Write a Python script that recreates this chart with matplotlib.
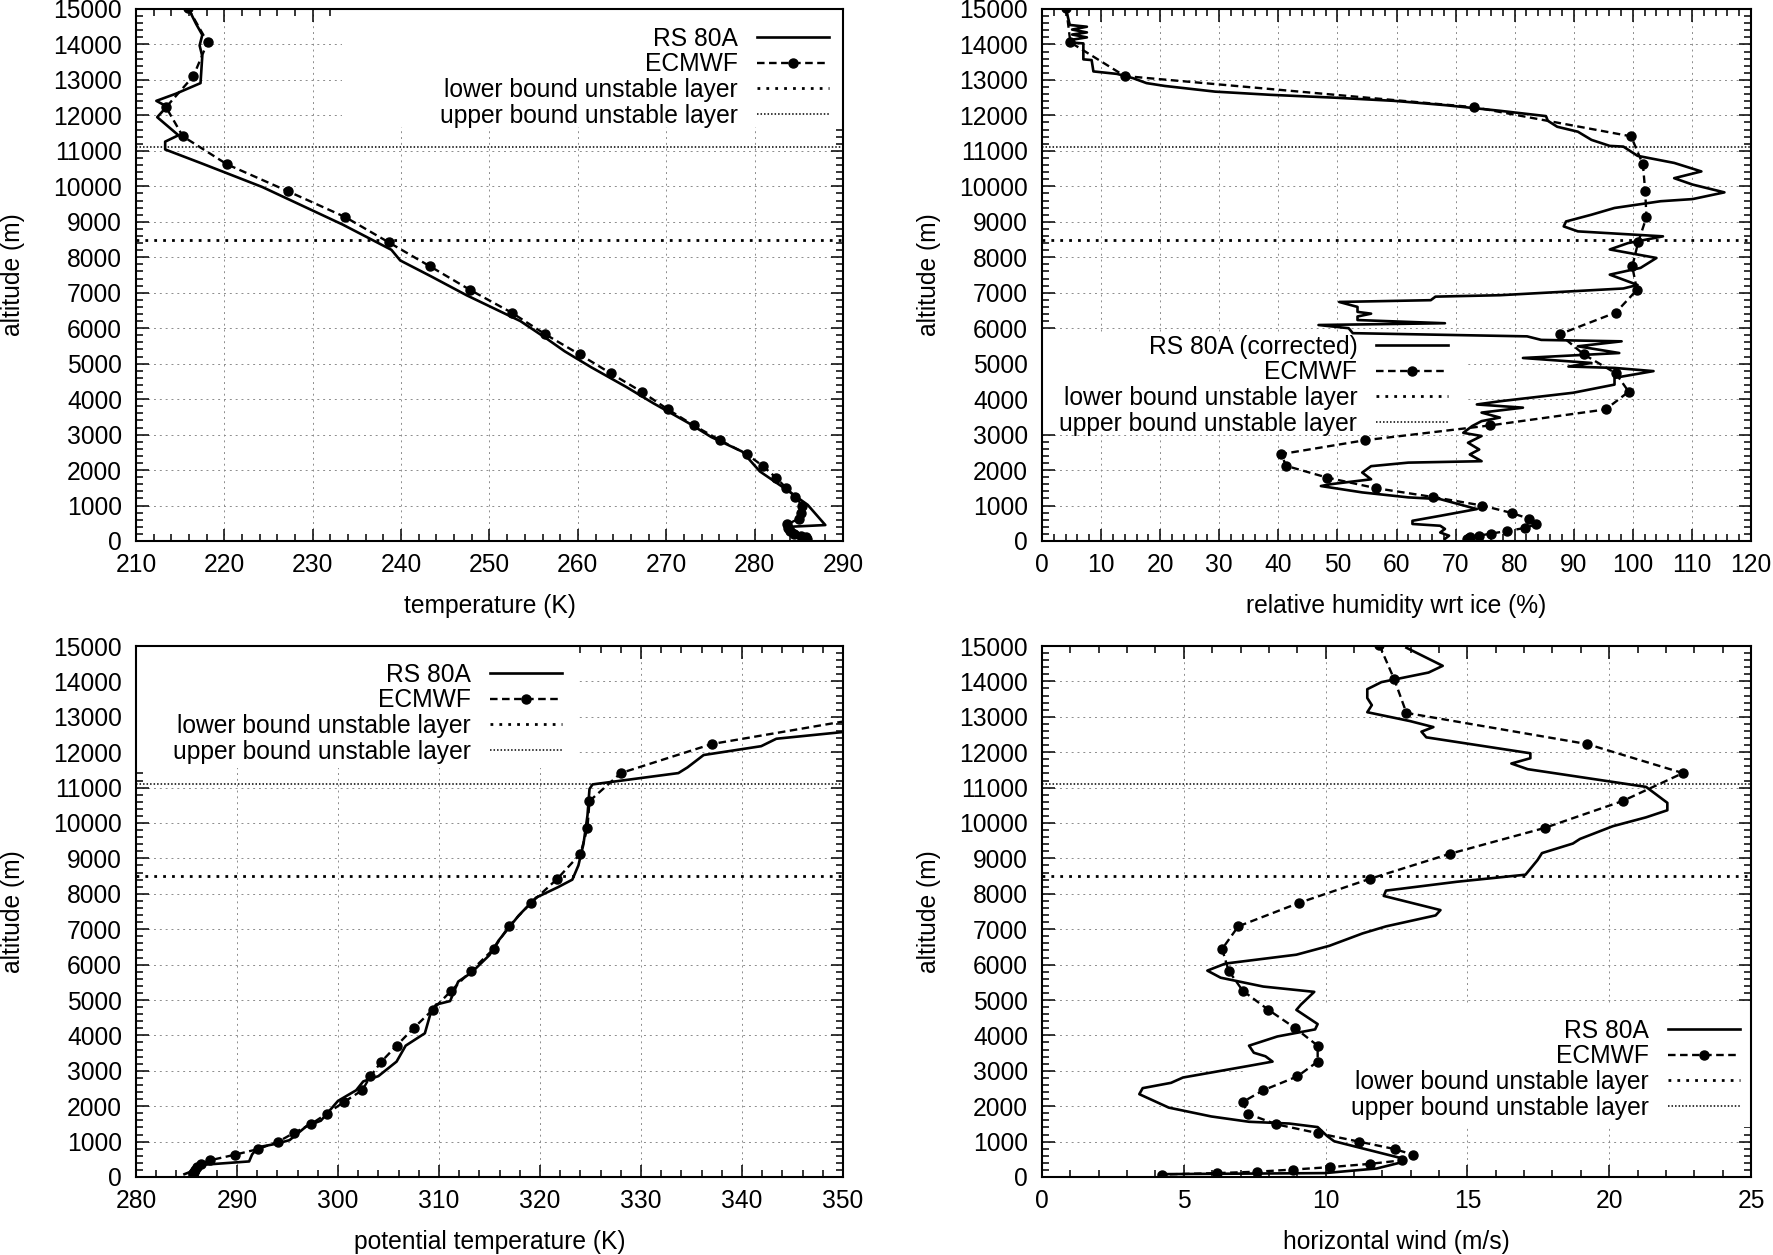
import matplotlib
matplotlib.use('Agg')
import matplotlib.pyplot as plt
from matplotlib.patches import Rectangle
from matplotlib.ticker import MultipleLocator

plt.rcParams['font.family'] = ['Liberation Sans', 'DejaVu Sans']
FS = 17.7

# ---------------- data ----------------
layer_lower = 8500.0
layer_upper = 11100.0

# ECMWF model levels (m) shared by all panels
z_ecmwf = [15020, 14060, 13110, 12230, 11410, 10620, 9860, 9130, 8420, 7740, 7080,
           6440, 5830, 5260, 4730, 4210, 3710, 3260, 2840, 2450, 2120, 1790, 1490,
           1240, 1000, 790, 630, 470, 370, 280, 210, 150, 110, 70]
t_ecmwf = [215.9, 218.1, 216.5, 213.4, 215.3, 220.3, 227.2, 233.7, 238.6, 243.3, 247.8,
           252.5, 256.3, 260.2, 263.7, 267.2, 270.2, 273.1, 276.1, 279.1, 280.9, 282.4, 283.6,
           284.6, 285.4, 285.3, 285.0, 283.7, 283.8, 284.0, 284.5, 285.2, 285.8, 285.9]
rh_ecmwf = [4.1, 4.8, 14.0, 73.2, 99.7, 101.7, 102.1, 102.3, 100.9, 99.9, 100.7,
            97.1, 87.6, 91.7, 97.1, 99.3, 95.4, 75.9, 54.6, 40.5, 41.3, 48.2, 56.5,
            66.2, 74.5, 79.5, 82.4, 83.6, 81.8, 78.7, 76.0, 74.0, 72.4, 72.0]
theta_ecmwf = [390.0, 372.0, 355.0, 337.0, 328.0, 324.9, 324.7, 324.0, 321.7, 319.1, 316.9,
               315.4, 313.2, 311.2, 309.4, 307.5, 305.8, 304.3, 303.2, 302.4, 300.6, 298.9, 297.3,
               295.6, 294.1, 292.1, 289.8, 287.3, 286.4, 286.0, 285.8, 285.7, 285.6, 285.6]
wind_ecmwf = [11.9, 12.42, 12.85, 19.22, 22.6, 20.47, 17.72, 14.38, 11.55, 9.05, 6.92,
              6.35, 6.58, 7.08, 7.97, 8.92, 9.72, 9.72, 9.0, 7.8, 7.08, 7.25, 8.25,
              9.72, 11.17, 12.43, 13.08, 12.68, 11.55, 10.17, 8.85, 7.58, 6.17, 4.22]

# RS 80A temperature profile
z_rs_t = [14980, 14580, 14270, 13970, 13670, 12910, 12610, 12410, 12250, 11950, 11440,
          11260, 11040, 10640, 9980, 8920, 8210, 7910, 7460, 6930, 6200, 5700, 5350,
          4900, 4340, 3890, 3330, 2930, 2520, 1960, 1450, 1020, 450, 400, 220, 60]
t_rs = [216.0, 216.8, 217.5, 217.2, 217.5, 217.3, 214.5, 212.3, 213.5, 212.4, 214.8,
        213.3, 213.3, 217.5, 224.3, 233.4, 238.9, 239.9, 243.4, 247.4, 253.5, 256.5, 258.5,
        261.5, 265.5, 268.5, 272.5, 275.1, 278.6, 280.6, 283.6, 286.0, 288.0, 283.9, 285.0, 286.1]

# RS 80A relative humidity wrt ice (corrected)
z_rs_rh = [14970, 14550, 14500, 14420, 14340, 14280, 14200, 14140, 14050, 14030, 13580,
           13560, 13240, 13170, 13050, 12910, 12830, 12670, 12580, 12500, 12410, 12290,
           12130, 11980, 11850, 11680, 11540, 11310, 11140, 11120, 10860, 10660, 10420,
           10230, 10050, 9830, 9640, 9580, 9390, 9200, 9010, 8870, 8730, 8590, 8400,
           8220, 7980, 7700, 7510, 7220, 7120, 6930, 6890, 6790, 6740, 6600, 6460,
           6410, 6330, 6230, 6140, 6090, 6000, 5860, 5770, 5670, 5630, 5490, 5300,
           5160, 5020, 4920, 4880, 4790, 4600, 4410, 4180, 3940, 3850, 3760, 3620,
           3480, 3380, 3240, 3050, 2960, 2770, 2580, 2440, 2250, 2210, 2110, 1930,
           1740, 1600, 1550, 1370, 1230, 1180, 900, 710, 570, 480, 430, 340, 240, 150, 60]
rh_rs = [4.1, 4.7, 7.6, 5.1, 7.6, 5.1, 7.6, 5.3, 5.3, 7.0, 7.0,
         8.4, 8.7, 12.7, 15.4, 17.7, 20.8, 29.3, 38.7, 49.5, 59.6, 68.2,
         77.5, 85.3, 85.6, 87.2, 90.7, 93.0, 96.1, 98.4, 100.8, 107.0, 111.6,
         107.0, 110.1, 115.5, 110.1, 104.7, 96.9, 93.0, 88.7, 88.3, 90.7, 105.1, 99.2,
         96.1, 104.0, 101.3, 96.1, 100.8, 98.4, 77.5, 66.6, 65.8, 50.3, 53.4, 53.4,
         55.7, 53.4, 53.4, 68.2, 46.8, 51.9, 52.6, 82.1, 84.5, 98.1, 90.7, 97.7,
         81.4, 93.0, 89.1, 96.9, 103.5, 96.9, 96.9, 89.9, 77.5, 73.6, 81.4, 74.4,
         77.5, 74.4, 72.8, 71.3, 74.4, 72.1, 74.0, 72.4, 74.4, 62.0, 55.7, 54.2,
         55.7, 48.8, 47.2, 54.2, 62.0, 67.4, 73.6, 67.4, 62.7, 62.7, 67.4, 68.2, 67.4, 68.9, 68.2]

# RS 80A potential temperature
z_rs_theta = [12570, 12380, 12170, 11920, 11570, 11410, 11090, 10960, 10210, 9400, 8800,
              8400, 8190, 7890, 7390, 6680, 6270, 5770, 5520, 4970, 4870, 4560, 4060,
              3710, 3260, 2850, 2700, 2450, 2150, 1590, 1440, 1040, 940, 840, 640, 440,
              340, 180, 80]
theta_rs = [350.0, 343.4, 341.9, 336.2, 334.6, 333.7, 325.2, 324.9, 324.7, 324.3, 323.8,
            323.2, 321.8, 319.6, 317.9, 315.9, 315.0, 313.2, 311.9, 311.1, 309.7, 309.1, 308.6,
            306.7, 305.8, 304.0, 302.5, 301.8, 300.0, 298.3, 296.9, 295.2, 293.9, 292.1, 291.5, 291.2,
            286.4, 285.7, 284.8]

# RS 80A horizontal wind
z_rs_wind = [14950, 14440, 14250, 13980, 13780, 13530, 13330, 13130, 12880, 12710, 12580,
             12420, 11970, 11830, 11680, 11520, 11020, 10570, 10360, 10160, 9910, 9550,
             9420, 9150, 8950, 8540, 8340, 8090, 7940, 7540, 7390, 7080, 6880, 6530,
             6280, 6030, 5830, 5630, 5380, 5230, 4870, 4720, 4320, 4170, 3970, 3710,
             3510, 3410, 3260, 3140, 2810, 2660, 2510, 2340, 1960, 1710, 1560, 1510,
             1410, 1160, 1010, 540, 440, 240, 110, 80]
wind_rs = [12.85, 14.13, 13.63, 11.97, 11.47, 11.47, 11.63, 11.47, 12.97, 13.8, 13.38,
           13.55, 17.22, 17.22, 16.55, 17.13, 21.3, 22.05, 22.05, 21.3, 20.13, 18.97,
           18.72, 17.63, 17.47, 17.05, 14.63, 12.13, 12.05, 14.05, 13.88, 12.13, 11.3, 10.13,
           8.97, 6.47, 5.83, 6.3, 7.8, 9.6, 9.13, 8.97, 9.72, 9.63, 8.3, 7.3,
           7.47, 7.88, 8.13, 7.3, 4.97, 4.55, 3.55, 3.43, 4.47, 5.97, 7.3, 8.72,
           9.72, 10.05, 10.3, 12.63, 12.8, 11.8, 9.97, 4.13]

labels_common = ['RS 80A', 'ECMWF', 'lower bound unstable layer', 'upper bound unstable layer']
labels_rh = ['RS 80A (corrected)', 'ECMWF', 'lower bound unstable layer', 'upper bound unstable layer']

# ---------------- figure ----------------
W, H = 1774, 1255
fig = plt.figure(figsize=(W / 100, H / 100), dpi=100)


def add_axes(l, t, r, b):
    return fig.add_axes([l / W, 1 - b / H, (r - l) / W, (b - t) / H])


def style(ax, xlim, xmajor, xminor, xlabel, ylab_x):
    ax.set_xlim(*xlim)
    ax.set_ylim(0, 15000)
    ax.xaxis.set_major_locator(MultipleLocator(xmajor))
    ax.xaxis.set_minor_locator(MultipleLocator(xminor))
    ax.yaxis.set_major_locator(MultipleLocator(1000))
    ax.yaxis.set_minor_locator(MultipleLocator(200))
    ax.tick_params(which='both', direction='in', top=True, right=True, width=1.1,
                   labelsize=FS, colors='black')
    ax.tick_params(which='major', length=9)
    ax.tick_params(which='minor', length=5)
    ax.tick_params(axis='x', pad=9)
    ax.tick_params(axis='y', pad=10)
    for s in ax.spines.values():
        s.set_linewidth(1.5)
    ax.set_axisbelow(True)
    ax.grid(True, which='major', color='#8c8c8c', linestyle=(0, (2, 4)), linewidth=0.7)
    ax.set_xlabel(xlabel, fontsize=FS)
    ax.set_ylabel('altitude (m)', fontsize=FS)
    ax.xaxis.set_label_coords(0.5, -0.123)
    ax.xaxis.label.set_va('center')
    ax.yaxis.set_label_coords(ylab_x, 0.5)
    ax.yaxis.label.set_va('center')


def draw(ax, x_rs, z_rs, x_ec, labels, anchor, box):
    ax.plot(x_rs, z_rs, color='black', lw=1.9, zorder=3, label=labels[0])
    ax.plot(x_ec, z_ecmwf, color='black', lw=1.7, linestyle=(0, (3.2, 1.9)), marker='o',
            markersize=6.5, zorder=3, label=labels[1])
    ax.axhline(layer_lower, color='black', lw=2.0, linestyle=(0, (1, 2.2)), zorder=2.5,
               label=labels[2])
    ax.axhline(layer_upper, color='black', lw=1.1, linestyle=(0, (1, 1.3)), zorder=2.5,
               label=labels[3])
    x0, y0, x1, y1 = box
    ax.add_patch(Rectangle((x0, y0), x1 - x0, y1 - y0, transform=ax.transAxes,
                           facecolor='white', edgecolor='none', zorder=1))
    leg = ax.legend(loc='upper right', bbox_to_anchor=anchor, markerfirst=False,
                    frameon=False, fontsize=FS, handlelength=2.93, handletextpad=0.77,
                    labelspacing=0.068, borderpad=0, borderaxespad=0, numpoints=1)
    leg.set_zorder(4)


ax_t = add_axes(136, 9, 843, 541)
ax_rh = add_axes(1042, 9, 1751, 541)
ax_th = add_axes(136, 646, 843, 1177)
ax_w = add_axes(1042, 646, 1751, 1177)

style(ax_t, (210, 290), 10, 2, 'temperature (K)', -0.174)
style(ax_rh, (0, 120), 10, 2, 'relative humidity wrt ice (%)', -0.160)
style(ax_th, (280, 350), 10, 2, 'potential temperature (K)', -0.174)
style(ax_w, (0, 25), 5, 1, 'horizontal wind (m/s)', -0.160)

draw(ax_t, t_rs, z_rs_t, t_ecmwf, labels_common, (0.980, 0.967), (0.291, 0.778, 1.0, 1.0))
draw(ax_rh, rh_rs, z_rs_rh, rh_ecmwf, labels_rh, (0.573, 0.3878), (0.0, 0.205, 0.598, 0.393))
draw(ax_th, theta_rs, z_rs_theta, theta_ecmwf, labels_common, (0.6025, 0.9688), (0.0, 0.770, 0.624, 1.0))
draw(ax_w, wind_rs, z_rs_wind, wind_ecmwf, labels_common, (0.984, 0.2982), (0.286, 0.095, 1.0, 0.327))

fig.savefig('out.png', dpi=100)
